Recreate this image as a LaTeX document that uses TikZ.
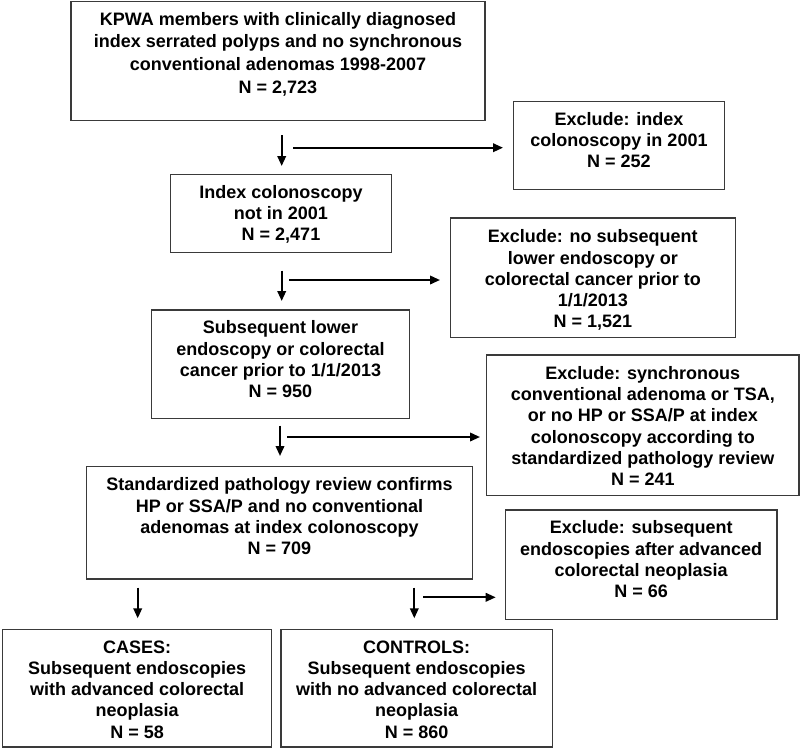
\documentclass[tikz,border=0pt]{standalone}
\usepackage{fontspec}
\setmainfont{Liberation Sans}
\usetikzlibrary{arrows.meta}
\definecolor{boxgray}{HTML}{3A3A3A}
\tikzset{
  fbox/.style={draw=boxgray, line width=1.4pt, inner sep=0pt, rectangle},
  txt/.style={inner sep=0pt, align=center, anchor=north, font=\fontsize{18}{21.3}\selectfont\bfseries},
  arr/.style={line width=2pt, -{Triangle[length=10pt,width=8.5pt]}}
}
\newcommand{\mkbox}[5]{% name x1 y1 x2 y2
  \node[fbox, minimum width={#4-#2}, minimum height={#5-#3}] (#1) at ({(#2+#4)/2},{(#3+#5)/2}) {};}
\begin{document}
\begin{tikzpicture}[x=1pt,y=-1pt]
\useasboundingbox (0,0) rectangle (800,748);
% boxes
\mkbox{b1}{71}{1.2}{485}{120.7}
\mkbox{e1}{513.7}{101.3}{724.3}{189.3}
\mkbox{b2}{170.3}{174.3}{391.7}{252.7}
\mkbox{e2}{450.3}{218}{735.3}{337.3}
\mkbox{b3}{151.7}{310}{409.3}{418.3}
\mkbox{e3}{486.7}{355}{798.8}{495.3}
\mkbox{b4}{86.7}{466.7}{472.3}{579}
\mkbox{e4}{505.3}{510}{777}{619.3}
\mkbox{cases}{2.7}{629.3}{271.7}{747}
\mkbox{controls}{281}{629.3}{552.3}{747}
% texts
\node[txt, font=\fontsize{18}{22.6}\selectfont\bfseries] (t1) at (278,12) {KPWA members with clinically diagnosed\\index serrated polyps and no synchronous\\conventional adenomas 1998-2007\\N = 2,723};
\node[txt] (te1) at (619,112) {Exclude: index\\colonoscopy in 2001\\N = 252};
\node[txt] (t2) at (281,185) {Index colonoscopy\\not in 2001\\N = 2,471};
\node[txt] (te2) at (592.8,229.5) {Exclude: no subsequent\\lower endoscopy or\\colorectal cancer prior to\\1/1/2013\\N = 1,521};
\node[txt] (t3) at (280.5,320.5) {Subsequent lower\\endoscopy or colorectal\\cancer prior to 1/1/2013\\N = 950};
\node[txt] (te3) at (642.8,366) {Exclude: synchronous\\conventional adenoma or TSA,\\or no HP or SSA/P at index\\colonoscopy according to\\standardized pathology review\\N = 241};
\node[txt] (t4) at (279.5,477.7) {Standardized pathology review confirms\\HP or SSA/P and no conventional\\adenomas at index colonoscopy\\N = 709};
\node[txt] (te4) at (641.2,520.5) {Exclude: subsequent\\endoscopies after advanced\\colorectal neoplasia\\N = 66};
\node[txt] (tc) at (137.2,640.3) {CASES:\\Subsequent endoscopies\\with advanced colorectal\\neoplasia\\N = 58};
\node[txt] (tk) at (416.7,640.3) {CONTROLS:\\Subsequent endoscopies\\with no advanced colorectal\\neoplasia\\N = 860};
% arrow endpoints
\coordinate (d1s) at (281.7,135);   \coordinate (d1e) at (281.7,166);
\coordinate (h1s) at (293,147.7);   \coordinate (h1e) at (503,147.7);
\coordinate (d2s) at (281.7,270.7); \coordinate (d2e) at (281.7,301);
\coordinate (h2s) at (289,280);     \coordinate (h2e) at (440,280);
\coordinate (d3s) at (280,425.7);   \coordinate (d3e) at (280,456);
\coordinate (h3s) at (287,437);     \coordinate (h3e) at (480,437);
\coordinate (d4s) at (137.7,587.7); \coordinate (d4e) at (137.7,618.3);
\coordinate (d5s) at (414.3,587.7); \coordinate (d5e) at (414.3,618.3);
\coordinate (h5s) at (423.3,597.3); \coordinate (h5e) at (495.7,597.3);
\draw[arr] (d1s) -- (d1e);
\draw[arr] (h1s) -- (h1e);
\draw[arr] (d2s) -- (d2e);
\draw[arr] (h2s) -- (h2e);
\draw[arr] (d3s) -- (d3e);
\draw[arr] (h3s) -- (h3e);
\draw[arr] (d4s) -- (d4e);
\draw[arr] (d5s) -- (d5e);
\draw[arr] (h5s) -- (h5e);
\end{tikzpicture}
\end{document}
